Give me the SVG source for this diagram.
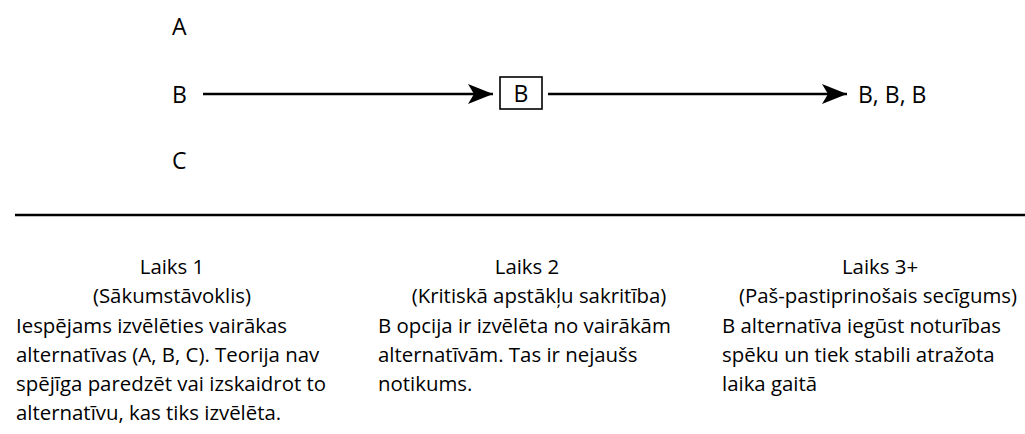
<svg xmlns="http://www.w3.org/2000/svg" width="1025" height="434" viewBox="0 0 1025 434">
  <style>
    text { font-family: "Open Sans", "Liberation Sans", sans-serif; fill: #000; }
    .big { font-size: 23px; }
    .body { font-size: 20.4px; }
    .head { font-size: 20.4px; }
    .mid { text-anchor: middle; }
    .conn { stroke: #000; stroke-width: 2.4; fill: none; }
  </style>
  <defs>
    <marker id="arrow" markerUnits="userSpaceOnUse" markerWidth="28" markerHeight="24" viewBox="-26 -12 28 24" refX="0" refY="0" orient="auto">
      <path d="M0,0 L-25,-10 L-19,0 L-25,10 Z" fill="#000"/>
    </marker>
  </defs>
  <rect width="1025" height="434" fill="#fff"/>

  <g id="node-A"><text class="big" x="172" y="35">A</text></g>
  <g id="node-B-start"><text class="big" x="172" y="103">B</text></g>
  <g id="node-C"><text class="big" x="172" y="169">C</text></g>
  <g id="node-B-box">
    <rect x="500" y="77" width="42" height="32" fill="#fff" stroke="#000" stroke-width="1.6"/>
    <text class="big mid" x="521" y="102">B</text>
  </g>
  <g id="node-BBB"><text class="big" x="858" y="103">B, B, B</text></g>

  <g id="connectors">
    <line class="conn" x1="203" y1="94" x2="493" y2="94" marker-end="url(#arrow)"/>
    <line class="conn" x1="548" y1="94" x2="847" y2="94" marker-end="url(#arrow)"/>
  </g>

  <g id="timeline">
    <line x1="15" y1="215" x2="1025" y2="215" stroke="#000" stroke-width="2.6"/>
  </g>

  <g id="col-1">
    <text class="head mid" x="172" y="274">Laiks 1</text>
    <text class="head mid" x="172" y="303">(Sākumstāvoklis)</text>
    <text class="body" x="16" y="333">Iespējams izvēlēties vairākas</text>
    <text class="body" x="16" y="362">alternatīvas (A, B, C). Teorija nav</text>
    <text class="body" x="16" y="391">spējīga paredzēt vai izskaidrot to</text>
    <text class="body" x="16" y="420">alternatīvu, kas tiks izvēlēta.</text>
  </g>

  <g id="col-2">
    <text class="head mid" x="527" y="274">Laiks 2</text>
    <text class="head mid" x="539" y="303">(Kritiskā apstākļu sakritība)</text>
    <text class="body" x="378" y="333">B opcija ir izvēlēta no vairākām</text>
    <text class="body" x="378" y="362">alternatīvām. Tas ir nejaušs</text>
    <text class="body" x="378" y="391">notikums.</text>
  </g>

  <g id="col-3">
    <text class="head mid" x="880" y="274">Laiks 3+</text>
    <text class="head mid" x="878" y="303">(Paš-pastiprinošais secīgums)</text>
    <text class="body" x="722" y="333">B alternatīva iegūst noturības</text>
    <text class="body" x="722" y="362">spēku un tiek stabili atražota</text>
    <text class="body" x="722" y="391">laika gaitā</text>
  </g>
</svg>
